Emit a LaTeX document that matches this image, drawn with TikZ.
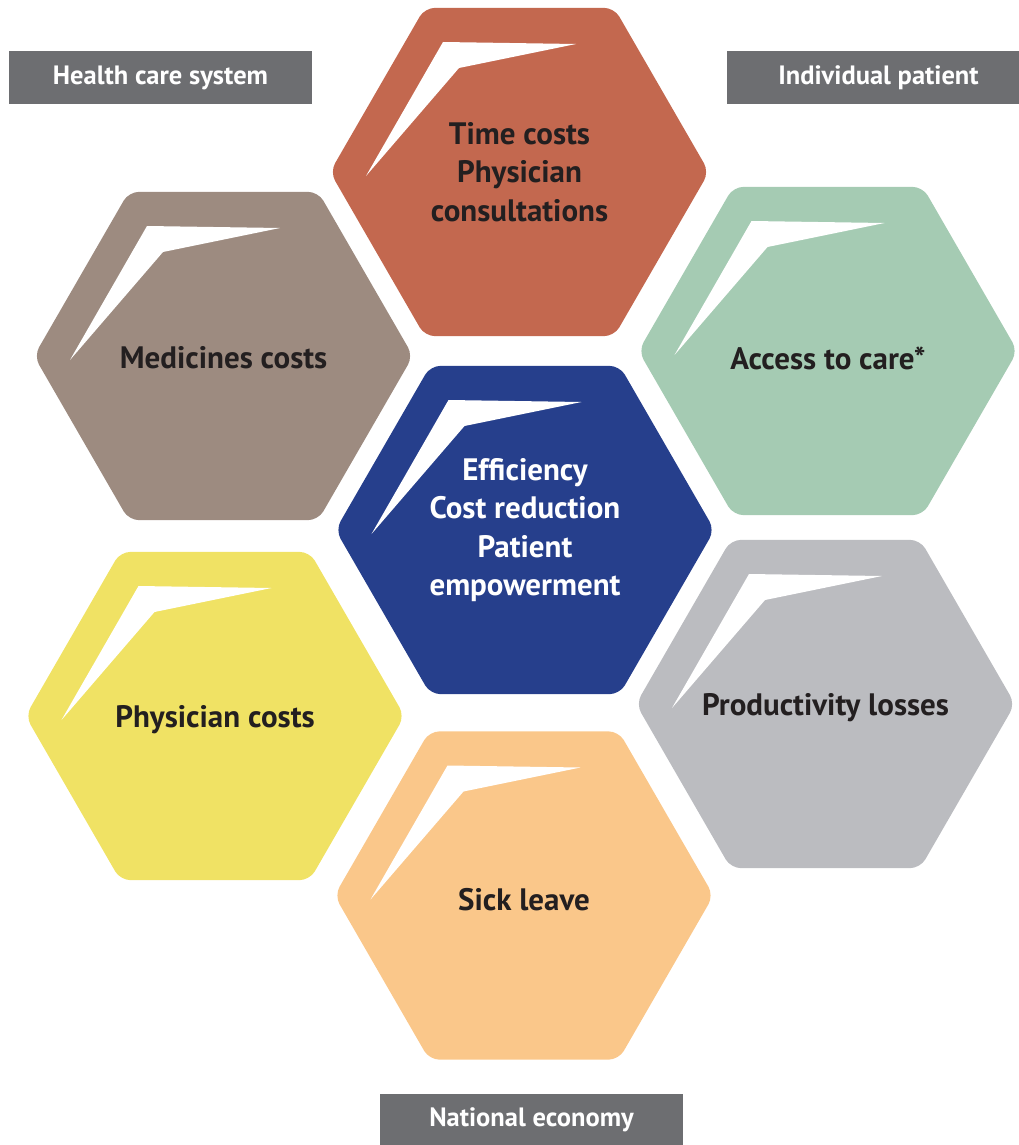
\documentclass[tikz,border=0pt]{standalone}
\usepackage{fontspec}
\setmainfont{PT Sans}
\usetikzlibrary{shapes.geometric, calc}

\definecolor{hexred}{HTML}{C3684F}
\definecolor{hexbrown}{HTML}{9D8B80}
\definecolor{hexgreen}{HTML}{A5CBB3}
\definecolor{hexblue}{HTML}{263F8C}
\definecolor{hexyellow}{HTML}{F0E264}
\definecolor{hexgrey}{HTML}{BBBCC0}
\definecolor{hexorange}{HTML}{FAC78A}
\definecolor{tagfill}{HTML}{6D6E71}
\definecolor{hextext}{HTML}{231F20}

\begin{document}
\begin{tikzpicture}[x=1pt, y=-1pt,
    hexa/.style={regular polygon, regular polygon sides=6, minimum size=379pt, inner sep=0pt,
        rounded corners=10pt},
    hexlabel/.style={align=center, text=hextext, inner sep=0pt,
        font=\fontsize{31}{38.5}\selectfont\bfseries},
    tag/.style={fill=tagfill, text=white, minimum width=303pt, minimum height=53pt, inner sep=0pt,
        font=\fontsize{26.5}{30}\selectfont\bfseries}
]
    \useasboundingbox (0,0) rectangle (1019,1145);

    % Ring of hexagons
    \node[hexa, fill=hexred, label={[hexlabel]center:Time costs\\Physician\\consultations}] (time) at (519.5,172) {};
    \node[hexa, fill=hexbrown, label={[hexlabel, yshift=-2pt]center:Medicines costs}] (med) at (223.5,356) {};
    \node[hexa, fill=hexgreen, label={[hexlabel, yshift=-7pt]center:Access to care*}] (access) at (828,351) {};
    \node[hexa, fill=hexblue, label={[hexlabel, text=white]center:Efficiency\\Cost reduction\\Patient\\empowerment}] (core) at (525,530) {};
    \node[hexa, fill=hexyellow, label={[hexlabel, yshift=-4pt]center:Physician costs}] (phys) at (215,716) {};
    \node[hexa, fill=hexgrey, label={[hexlabel, yshift=-4pt]center:Productivity losses}] (prod) at (825.5,704) {};
    \node[hexa, fill=hexorange, label={[hexlabel, yshift=-4pt]center:Sick leave}] (sick) at (524,895.5) {};

    % White highlights
    \foreach \h in {time, med, access, core, phys, prod, sick}
        \fill[white, shift={(\h.center)}] (-76.5,-130) -- (56.5,-128) -- (-60.5,-104) -- (-153.5,4) -- cycle;

    % Perspective tags
    \node[tag] (hcs) at (160.5,77.5) {Health care system};
    \node[tag] (pat) at (878.5,77.5) {Individual patient};
    \node[tag] (eco) at (531.5,1120) {National economy};
\end{tikzpicture}
\end{document}
